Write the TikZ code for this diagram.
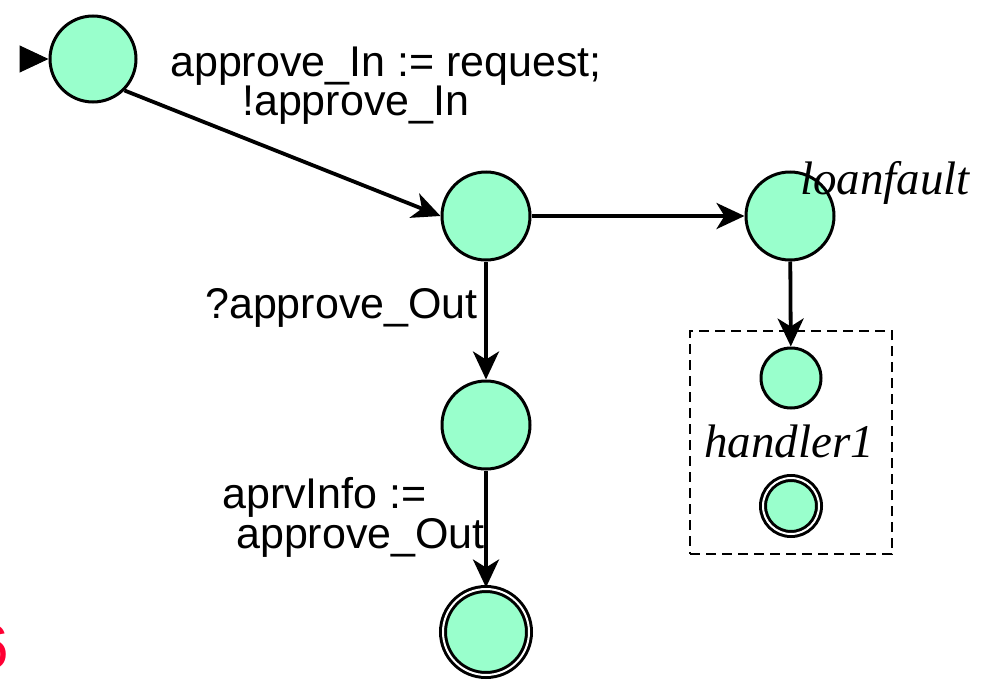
\documentclass[tikz,border=0pt]{standalone}
\usepackage{fontspec}
\newfontfamily\arialfont{Liberation Sans}
\newfontfamily\serifital{Liberation Serif}
\usetikzlibrary{arrows.meta}
\definecolor{mint}{RGB}{153,255,204}
\definecolor{redsix}{RGB}{255,0,51}
\begin{document}
\begin{tikzpicture}[x=1pt,y=-1pt,
  state/.style={circle,draw,line width=3pt,fill=mint,inner sep=0pt,minimum size=#1},
  finalstate/.style={circle,draw,line width=3pt,fill=mint,inner sep=0pt,minimum size=#1,
                double=white,double distance=2pt},
  trans/.style={line width=3.8pt,-{Stealth[length=28pt,width=26pt,inset=8pt]}},
  lbl/.style={font=\arialfont\fontsize{43}{48}\selectfont,inner sep=0pt},
  regionname/.style={font=\serifital\itshape\fontsize{47}{50}\selectfont,inner sep=0pt}]
\useasboundingbox (0,0) rectangle (991,680);

% states
\node[state=86] (s0) at (93,59) {};
\node[state=88] (s2) at (486,216) {};
\node[state=88] (s3) at (790,216) {};
\node[state=88] (s4) at (486,425) {};
\node[finalstate=86] (s5) at (486,632) {};

% handler region
\node[draw,line width=2.5pt,dash pattern=on 10pt off 6pt,minimum width=202pt,
      minimum height=223pt,inner sep=0pt] (box) at (791,442.5) {};
\node[state=60] (h0) at (791,378) {};
\node[finalstate=56] (h1) at (791,506) {};
\node[regionname,anchor=base] (hname) at (789,457) {handler1};
\node[regionname,anchor=base west] (lname) at (800,194) {loanfault};

% initial marker
\coordinate (init) at (20,59);
\draw[line width=1pt,-{Triangle[length=29pt,width=27pt]}] (init) -- (s0.west);

% transitions
\draw[trans] (s0.-45) -- (s2.west);
\draw[trans] (s2) -- (s3);
\draw[trans] (s2) -- (s4);
\draw[trans] (s4) -- (s5);
\draw[trans] (s3) -- (h0);

% transition labels
\node[lbl,anchor=base west] (t1a) at (170,76) {approve\_In := request;};
\node[lbl,anchor=base west] (t1b) at (242,115) {!approve\_In};
\node[lbl,anchor=base west] (t2) at (205,318) {?approve\_Out};
\node[lbl,anchor=base west] (t3a) at (222,508) {aprvInfo :=};
\node[lbl,anchor=base west] (t3b) at (236,548) {approve\_Out};

% page number
\node[anchor=base east,text=redsix,font=\arialfont\fontsize{62}{62}\selectfont,inner sep=0pt]
  (six) at (9,668) {6};
\end{tikzpicture}
\end{document}
